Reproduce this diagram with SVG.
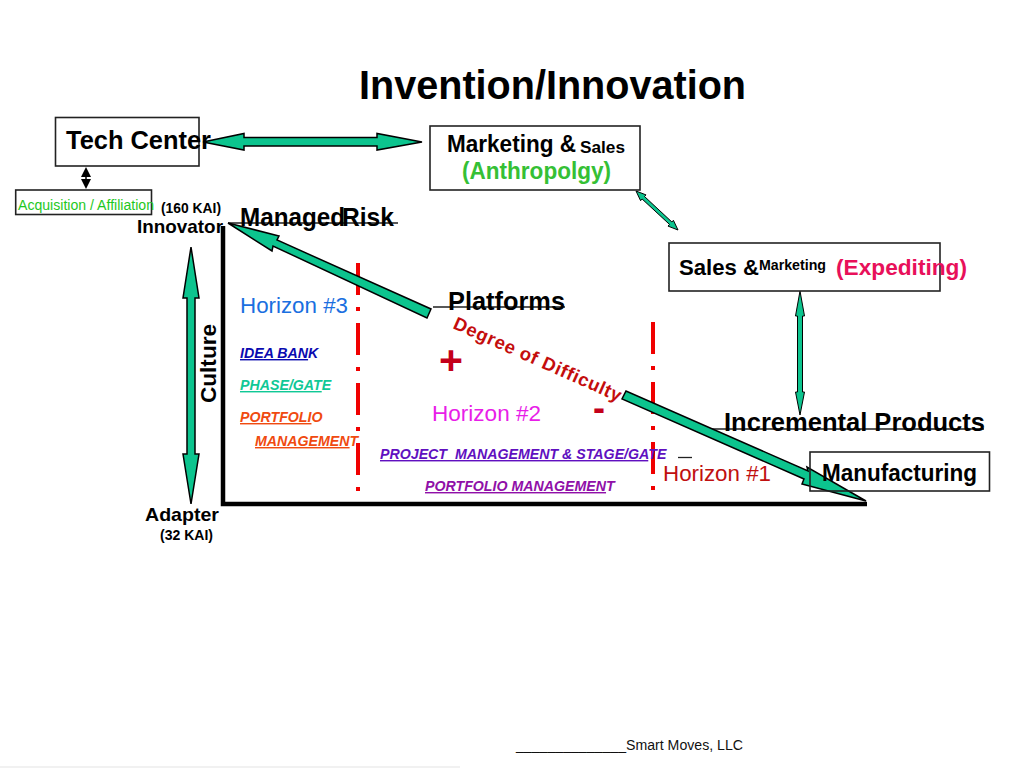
<svg xmlns="http://www.w3.org/2000/svg" width="1024" height="768" viewBox="0 0 1024 768">
<style>
text{font-family:"Liberation Sans",Arial,sans-serif;white-space:pre}
.b{font-weight:700;fill:#000}
.box{fill:none;stroke:#222;stroke-width:1.6}
.arr{fill:#0cc48e;stroke:#000;stroke-width:1.5;stroke-linejoin:miter}
.thin{fill:#0cc48e;stroke:#000;stroke-width:1}
.axis{stroke:#000;stroke-width:4.5;fill:none}
.dash{stroke:#f00000;stroke-width:4;fill:none;stroke-dasharray:32 12 4 12}
.rule{stroke:#222;stroke-width:1.3;fill:none}
.hz{font-size:22px}
.ul{font-size:14.200px;font-weight:700;font-style:italic}
.u{text-decoration:underline}
</style>
<rect width="1024" height="768" fill="#fff"/>
<rect x="0" y="766" width="460" height="2" fill="#f1f1f1"/>
<g id="title"><text class="b" x="359" y="99" font-size="41" textLength="387" lengthAdjust="spacingAndGlyphs">Invention/Innovation</text></g>
<g id="chart">
<path class="axis" d="M223 226V504H867"/>
<path class="dash" d="M358 263V492"/>
<path class="dash" d="M653 322V492"/>
<path class="rule" d="M228 223H398M433 307H565M712 429H984"/>
<path class="rule" d="M678 457.500H692" stroke-width="2"/>
</g>
<g id="connectors">
<polygon class="arr" points="203,142 244,133.500 244,137.500 377,137.500 377,133.500 422,142 377,150 377,146 244,146 244,150"/>
<path d="M86 172V184" stroke="#000" stroke-width="1.500"/>
<polygon points="86,167 91,177 81,177" fill="#000"/>
<polygon points="86,189 91,179 81,179" fill="#000"/>
<polygon class="thin" points="636,191 646,194.900 644.500,196.500 671.900,222 673.400,220.300 678,230 668,226.100 669.500,224.400 642.100,199 640.600,200.700"/>
<polygon class="thin" points="800,291 804.500,316 802.500,316 802.500,392 804.500,392 800,415 795.500,392 797.500,392 797.500,316 795.500,316"/>
<polygon class="arr" points="191,247 199,298 195,298 195,454 199,454 191,504 183,454 187,454 187,298 183,298"/>
<polygon class="arr" points="228,223 279,236 277,240 431,309 427,318 273,246 272,251"/>
<polygon class="arr" points="866,501 802,484 804,479 622,399 626,391 808,471 807,467"/>
</g>
<g id="tech-center"><rect class="box" x="55.500" y="117.500" width="143.500" height="48.500"/><text class="b" x="66" y="149" font-size="26" textLength="145" lengthAdjust="spacingAndGlyphs">Tech Center</text></g>
<g id="acquisition"><rect class="box" x="15.700" y="190" width="135.800" height="24.500"/><text x="18" y="210" font-size="14" fill="#1ec81e" textLength="136" lengthAdjust="spacingAndGlyphs">Acquisition / Affiliation</text></g>
<g id="marketing"><rect class="box" x="430" y="126" width="210" height="64"/><text class="b" x="447" y="152" font-size="24" textLength="129" lengthAdjust="spacingAndGlyphs">Marketing &amp;</text><text class="b" x="580" y="153" font-size="17" textLength="45" lengthAdjust="spacingAndGlyphs">Sales</text><text x="462" y="179" font-size="23" font-weight="700" fill="#35c035" textLength="149" lengthAdjust="spacingAndGlyphs">(Anthropolgy)</text></g>
<g id="sales"><rect class="box" x="669" y="243" width="271" height="48"/><text class="b" x="679" y="275" font-size="22" textLength="80" lengthAdjust="spacingAndGlyphs">Sales &amp;</text><text class="b" x="759" y="270" font-size="14" textLength="67" lengthAdjust="spacingAndGlyphs">Marketing</text><text x="836" y="275" font-size="22" font-weight="700" fill="#e8105a" textLength="131" lengthAdjust="spacingAndGlyphs">(Expediting)</text></g>
<g id="manufacturing"><rect class="box" x="810" y="452" width="179.500" height="39"/><text class="b" x="822" y="481" font-size="23" textLength="155" lengthAdjust="spacingAndGlyphs">Manufacturing</text></g>
<g id="labels">
<text class="b" x="161" y="213" font-size="14" textLength="60" lengthAdjust="spacingAndGlyphs">(160 KAI)</text>
<text class="b" x="137" y="233" font-size="19" textLength="86" lengthAdjust="spacingAndGlyphs">Innovator</text>
<text class="b" x="145" y="521" font-size="19" textLength="74" lengthAdjust="spacingAndGlyphs">Adapter</text>
<text class="b" x="160" y="540" font-size="14" textLength="53" lengthAdjust="spacingAndGlyphs">(32 KAI)</text>
<text class="b" x="240" y="226" font-size="25" textLength="105" lengthAdjust="spacingAndGlyphs">Managed</text>
<text class="b" x="342" y="226" font-size="25" textLength="52" lengthAdjust="spacingAndGlyphs">Risk</text>
<text class="b" x="448" y="310" font-size="25" textLength="117" lengthAdjust="spacingAndGlyphs">Platforms</text>
<text class="b" x="724" y="431" font-size="25" textLength="261" lengthAdjust="spacingAndGlyphs">Incremental Products</text>
<text class="b" transform="translate(216 403) rotate(-90)" font-size="22" textLength="79" lengthAdjust="spacingAndGlyphs">Culture</text>
<text class="hz" x="240" y="313" fill="#1a6fe0" textLength="108" lengthAdjust="spacingAndGlyphs">Horizon #3</text>
<text class="hz" x="432" y="421" fill="#e81ee8" textLength="109" lengthAdjust="spacingAndGlyphs">Horizon #2</text>
<text class="hz" x="663" y="481" fill="#c01010" textLength="108" lengthAdjust="spacingAndGlyphs">Horizon #1</text>
<text class="ul" x="240" y="358" fill="#0a0ab0"><tspan class="u">IDEA BAN</tspan>K</text>
<text class="ul" x="240" y="390" fill="#10c896"><tspan class="u">PHASE/GAT</tspan>E</text>
<text class="ul" x="240" y="422" fill="#f04a10"><tspan class="u">PORTFOLI</tspan>O</text>
<text class="ul" x="255" y="446" fill="#f04a10"><tspan class="u">MANAGEMEN</tspan>T</text>
<text class="ul" x="380" y="459" fill="#6010c0"><tspan class="u">PROJECT  MANAGEMENT &amp; STAGE/GA</tspan>TE</text>
<text class="ul" x="425" y="491" fill="#9010a8"><tspan class="u">PORTFOLIO MANAGEMEN</tspan>T</text>
<text transform="translate(452 328) rotate(24)" font-size="18.500" font-weight="700" fill="#c40d0d" textLength="182">Degree of Difficulty</text>
<text x="451" y="374" font-size="41" font-weight="700" fill="#c4001a" text-anchor="middle">+</text>
<text x="599" y="420" font-size="36" font-weight="700" fill="#c4001a" text-anchor="middle">-</text>
<text x="516" y="750" font-size="14" fill="#111" textLength="227" lengthAdjust="spacingAndGlyphs">______________Smart Moves, LLC</text>
</g>
</svg>
